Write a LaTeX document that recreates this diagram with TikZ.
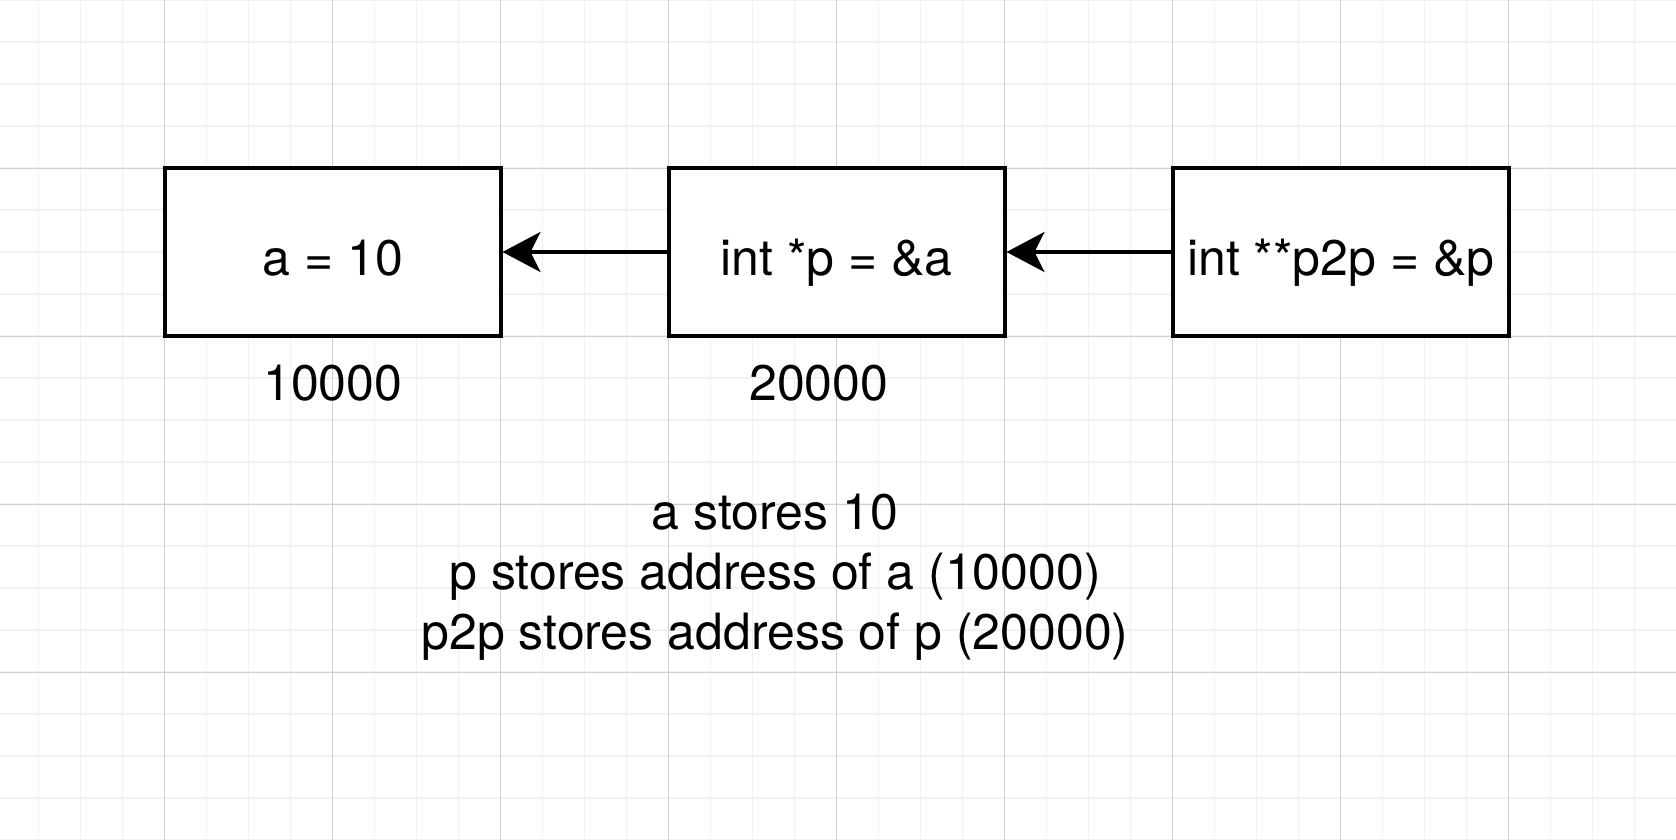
\documentclass[tikz,border=0pt]{standalone}
\usepackage{fontspec}
\setmainfont{TeX Gyre Heros}
\usetikzlibrary{arrows.meta,positioning}
\definecolor{gridmajor}{RGB}{208,208,208}
\definecolor{gridminor}{RGB}{241,241,241}

\begin{document}
\begin{tikzpicture}[x=0.5pt, y=-0.5pt,
        font=\fontsize{25pt}{30pt}\selectfont,
        cell/.style={draw, fill=white, line width=1.8pt, minimum width=168pt,
            minimum height=84pt, inner sep=0pt, text height=24pt, text depth=1pt},
        addr/.style={anchor=base},
        ptr/.style={line width=1.8pt, -{Stealth[length=19pt, width=20pt, inset=5pt]}}]
        \useasboundingbox (0,0) rectangle (1676,840);

        \begin{scope}
            \clip (0,0) rectangle (1676,840);
            \foreach \i in {0,...,40}
            \draw[gridminor, line width=0.6pt] ({-3.3+42*\i},0) -- ({-3.3+42*\i},840);
            \foreach \j in {0,...,20}
            \draw[gridminor, line width=0.6pt] (0,{42*\j}) -- (1676,{42*\j});
            \foreach \i in {0,...,10}
            \draw[gridmajor, line width=0.5pt] ({-3.3+168*\i},0) -- ({-3.3+168*\i},840);
            \foreach \j in {0,...,5}
            \draw[gridmajor, line width=0.5pt] (0,{168*\j}) -- (1676,{168*\j});
        \end{scope}

        \node[cell] (a) at (332.7,252) {a = 10};
        \node[cell] (p) at (836.7,252) {int *p = \&a};
        \node[cell] (p2p) at (1340.7,252) {int **p2p = \&p};

        \draw[ptr] (p.west) -- (a.east);
        \draw[ptr] (p2p.west) -- (p.east);

        \node[addr] (addra) at (332.7,400.5) {10000};
        \node[addr] (addrp) at (818.7,400.5) {20000};

        \node[align=center, anchor=base] (note) at (775,649)
            {a stores 10\\p stores address of a (10000)\\p2p stores address of p (20000)};
    \end{tikzpicture}
\end{document}
